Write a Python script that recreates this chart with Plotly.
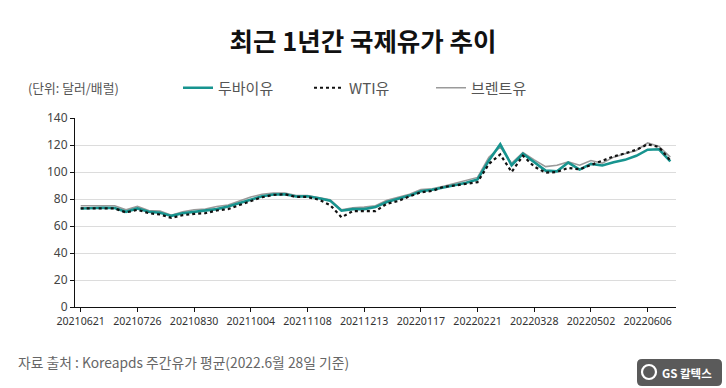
import plotly.graph_objects as go

dates = ["20210621","20210628","20210705","20210712","20210719","20210726","20210802","20210809",
         "20210816","20210823","20210830","20210906","20210913","20210920","20210927","20211004",
         "20211011","20211018","20211025","20211101","20211108","20211115","20211122","20211129",
         "20211206","20211213","20211220","20211227","20220103","20220110","20220117","20220124",
         "20220131","20220207","20220214","20220221","20220228","20220307","20220314","20220321",
         "20220328","20220404","20220411","20220418","20220425","20220502","20220509","20220516",
         "20220523","20220530","20220606","20220613","20220620"]

dubai = [73.0,73.3,73.5,73.3,70.5,73.0,70.5,69.8,67.5,69.5,70.5,71.0,72.5,74.5,77.0,79.5,
         82.0,83.3,83.5,81.8,82.0,80.5,78.8,71.3,72.5,72.5,74.0,77.8,80.0,82.5,85.8,86.8,
         88.5,90.2,92.0,94.5,108.5,120.5,105.0,113.5,107.5,101.0,100.5,107.0,101.8,106.0,
         104.8,107.2,109.0,112.0,116.5,116.8,107.8]

wti = [73.0,73.0,73.5,73.0,70.0,72.0,69.5,68.5,66.0,68.0,69.0,69.5,71.5,72.5,75.5,78.5,
       81.3,83.0,83.5,81.5,81.5,79.5,75.5,66.5,71.0,71.0,71.0,76.5,78.5,82.0,85.0,86.0,
       89.0,90.0,91.5,92.5,106.0,113.0,100.0,112.0,104.0,99.5,100.0,103.0,102.0,105.0,
       108.0,111.5,113.8,116.5,120.5,118.5,108.5]

brent = [75.0,75.0,75.0,75.0,72.0,74.5,71.5,71.0,68.0,70.5,72.0,72.5,74.5,75.5,78.5,81.5,
         83.5,84.5,84.5,82.5,82.5,81.0,79.5,72.0,73.5,74.0,75.0,79.0,81.0,83.5,87.0,87.5,
         89.5,91.5,93.5,96.0,111.0,118.5,106.5,114.5,109.0,104.0,105.0,107.5,105.0,108.5,
         106.5,111.0,113.5,116.0,121.5,119.0,111.0]

series_names = ["두바이유", "WTI유", "브렌트유"]
y_ticks = [0, 20, 40, 60, 80, 100, 120, 140]
x_tick_idx = list(range(0, len(dates), 5))
x_tick_text = [dates[i] for i in x_tick_idx]

idx = list(range(len(dates)))
KR = "Noto Sans CJK KR"

L, R, T, B = 75, 676, 118, 307
PW, PH = R - L, B - T


def px(x):
    return (x - L) / PW


def py(y):
    return (B - y) / PH


fig = go.Figure()
fig.add_trace(go.Scatter(x=idx, y=brent, mode="lines", name=series_names[2],
                         line=dict(color="#9a9a9a", width=1.6), legendrank=3))
fig.add_trace(go.Scatter(x=idx, y=dubai, mode="lines", name=series_names[0],
                         line=dict(color="#17948f", width=2.6), legendrank=1, legendwidth=86))
fig.add_trace(go.Scatter(x=idx, y=wti, mode="lines", name=series_names[1],
                         line=dict(color="#111111", width=2.2, dash="dot"), legendrank=2, legendwidth=77))

fig.update_layout(
    width=726, height=388,
    margin=dict(l=L, r=726 - R, t=T, b=388 - B),
    paper_bgcolor="white", plot_bgcolor="white",
    font=dict(family=KR, color="#444"),
    title=dict(text="<b>최근 1년간 국제유가 추이</b>", x=0.5, xanchor="center",
               y=1 - 42/388, yanchor="middle",
               font=dict(family=KR, size=25.5, color="#111")),
    showlegend=True,
    legend=dict(orientation="h", x=px(178), xanchor="left",
                y=py(88), yanchor="middle",
                font=dict(family=KR, size=15, color="#555"),
                bgcolor="rgba(0,0,0,0)", traceorder="normal"),
    xaxis=dict(range=[-0.5, len(dates)-0.5], tickmode="array", tickvals=x_tick_idx,
               ticktext=x_tick_text, showgrid=False, zeroline=False,
               showline=True, linecolor="#111", linewidth=1.2,
               ticks="outside", ticklen=4, tickcolor="#111",
               tickfont=dict(family="Noto Sans", size=10.6, color="#333")),
    yaxis=dict(range=[0, 140], tickmode="array", tickvals=y_ticks,
               showgrid=True, gridcolor="#dcdcdc", gridwidth=1, zeroline=False,
               showline=True, linecolor="#111", linewidth=1.2,
               ticks="outside", ticklen=4, tickcolor="#111",
               tickfont=dict(family="Noto Sans", size=12, color="#444")),
    hovermode=False,
)

fig.add_annotation(text="(단위: 달러/배럴)", xref="paper", yref="paper",
                   x=px(26), y=py(88), xanchor="left", yanchor="middle",
                   showarrow=False, font=dict(family=KR, size=12.8, color="#555"))

fig.add_annotation(text="자료 출처 : Koreapds 주간유가 평균(2022.6월 28일 기준)",
                   xref="paper", yref="paper", x=px(16), y=py(362),
                   xanchor="left", yanchor="middle", showarrow=False,
                   font=dict(family=KR, size=13.8, color="#666"))

# GS Caltex logo badge (rounded box)
bx0, bx1, by0, by1, rr = 637, 722, 359, 386, 5
path = (f"M {px(bx0+rr)},{py(by0)} L {px(bx1-rr)},{py(by0)} "
        f"Q {px(bx1)},{py(by0)} {px(bx1)},{py(by0+rr)} L {px(bx1)},{py(by1-rr)} "
        f"Q {px(bx1)},{py(by1)} {px(bx1-rr)},{py(by1)} L {px(bx0+rr)},{py(by1)} "
        f"Q {px(bx0)},{py(by1)} {px(bx0)},{py(by1-rr)} L {px(bx0)},{py(by0+rr)} "
        f"Q {px(bx0)},{py(by0)} {px(bx0+rr)},{py(by0)} Z")
fig.add_shape(type="path", xref="paper", yref="paper", path=path,
              fillcolor="#5a5a5a", line=dict(width=0), layer="above")
fig.add_shape(type="circle", xref="paper", yref="paper",
              x0=px(642), x1=px(656), y0=py(379), y1=py(365),
              fillcolor="rgba(0,0,0,0)", line=dict(color="white", width=2.2), layer="above")
fig.add_annotation(text="<b>GS</b> <b>칼텍스</b>", xref="paper", yref="paper",
                   x=px(687), y=py(372.5), xanchor="center", yanchor="middle",
                   showarrow=False, font=dict(family=KR, size=11.5, color="white"))

fig.write_html("out.html", config={"displayModeBar": False},
               post_script="document.body.style.margin='0';")
